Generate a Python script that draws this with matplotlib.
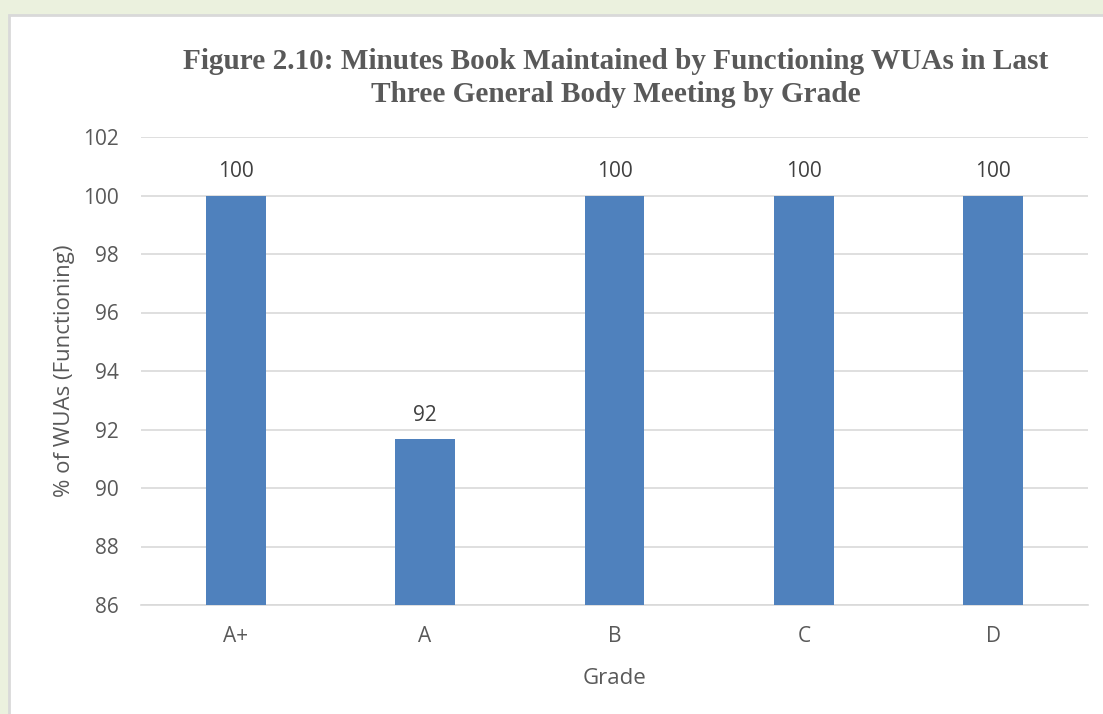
import matplotlib.pyplot as plt
from matplotlib.patches import Rectangle

# Minutes book maintained, by WUA grade
grades = ["A+", "A", "B", "C", "D"]
percent = [100, 91.67, 100, 100, 100]
labels = ["100", "92", "100", "100", "100"]

yticks = list(range(86, 103, 2))

fig = plt.figure(figsize=(11.03, 7.14), dpi=100)
fig.patch.set_facecolor("#ebf1de")

# white chart panel with a thin grey border
panel = Rectangle((9 / 1103, -0.1), 1.1, 1.1 - 15 / 714, transform=fig.transFigure,
                  facecolor="white", edgecolor="#d9d9d9", linewidth=2, zorder=-1)
fig.patches.append(panel)

ax = fig.add_axes([141 / 1103, 1 - 605 / 714, 947 / 1103, (605 - 137) / 714])
ax.set_zorder(2)
ax.set_facecolor("none")

x = range(len(grades))
ax.bar(x, percent, width=0.316, color="#4f81bd", zorder=3)

for i, v in enumerate(percent):
    ax.text(i, v + 0.45, labels[i], ha="center", va="bottom",
            fontsize=15, color="#404040", family="Open Sans")

ax.set_ylim(86, 102)
ax.set_xlim(-0.5, len(grades) - 0.5)
ax.set_yticks(yticks)
ax.set_xticks(list(x))
ax.set_xticklabels(grades)

ax.grid(axis="y", color="#d9d9d9", linewidth=1.2, zorder=0)
for s in ["top", "right", "left"]:
    ax.spines[s].set_visible(False)
ax.spines["bottom"].set_color("#d9d9d9")
ax.spines["bottom"].set_linewidth(1.2)
ax.tick_params(axis="both", length=0, colors="#595959", labelsize=15)
ax.tick_params(axis="y", pad=16)
ax.tick_params(axis="x", pad=15)
for t in ax.get_xticklabels() + ax.get_yticklabels():
    t.set_family("Open Sans")

ax.set_xlabel("Grade", fontsize=16, color="#595959", family="Open Sans", labelpad=15)
ax.set_ylabel("% of WUAs (Functioning)", fontsize=16, color="#595959",
              family="Open Sans", labelpad=6)

fig.text(616 / 1103, 1 - 78 / 714,
         "Figure 2.10: Minutes Book Maintained by Functioning WUAs in Last\n"
         "Three General Body Meeting by Grade",
         ha="center", va="center", fontsize=21.1, fontweight="bold",
         color="#595959", family="Liberation Serif", linespacing=1.3)

fig.savefig("out.png", dpi=100, facecolor=fig.get_facecolor())
